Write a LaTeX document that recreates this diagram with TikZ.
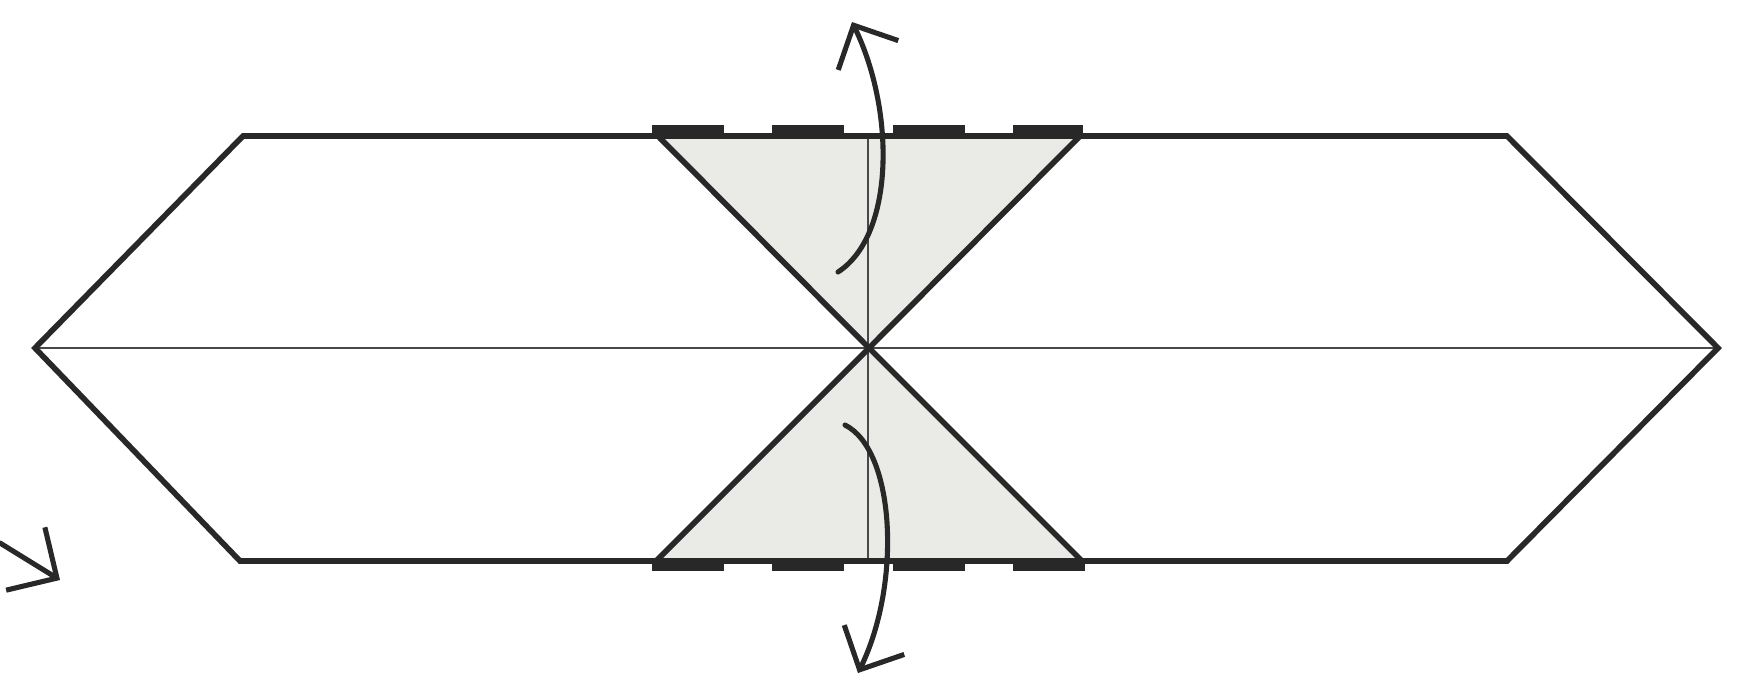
\documentclass[tikz,border=0pt]{standalone}
\usepackage{tikz}
\usetikzlibrary{arrows.meta}

\definecolor{inkGray}{RGB}{40, 40, 40}
\definecolor{flapGray}{RGB}{234, 234, 231}

\begin{document}
\begin{tikzpicture}[
    x=0.01cm, y=-0.01cm,
    outline/.style={draw=inkGray, line width=1.6pt, line join=miter},
    crease/.style={draw=inkGray!85, line width=0.6pt},
    flap/.style={fill=flapGray, draw=none},
    edgemark/.style={draw=inkGray, line width=2.2pt,
                     dash pattern=on 20.5pt off 13.7pt},
    turn/.style={draw=inkGray, line width=1.45pt, line cap=round,
                 -{Straight Barb[length=9.5pt, width=19pt]}},
  ]
    \useasboundingbox (0,0) rectangle (1748,690);

    % corners of the strip
    \coordinate (L)  at (35,348);
    \coordinate (TL) at (243,136);
    \coordinate (TR) at (1507,136);
    \coordinate (R)  at (1718,348);
    \coordinate (BR) at (1507,561);
    \coordinate (BL) at (240,561);
    \coordinate (C)  at (869,348);

    % flaps
    \coordinate (FTL) at (656,134);
    \coordinate (FTR) at (1082,134);
    \coordinate (FBL) at (656,561);
    \coordinate (FBR) at (1082,561);
    \coordinate (VT) at (868,134);
    \coordinate (VB) at (868,561);

    \fill[flap] (FTL) -- (C) -- (FTR) -- cycle;
    \fill[flap] (FBL) -- (C) -- (FBR) -- cycle;

    \draw[crease] (L) -- (R);
    \draw[crease] (VT) -- (VB);

    \draw[outline] (L) -- (TL) -- (TR) -- (R) -- (BR) -- (BL) -- cycle;
    \draw[outline] (FTL) -- (C) -- (FTR);
    \draw[outline] (FBL) -- (C) -- (FBR);

    \draw[edgemark] (652,129) -- (1083,129);
    \draw[edgemark] (652,567) -- (1085,567);

    % turn-over arrows
    \coordinate (UA) at (838,272);
    \coordinate (UB) at (852,22);
    \coordinate (DA) at (845,425);
    \coordinate (DB) at (858,673);
    \draw[turn] (UA) .. controls (895,235) and (895,110) .. (UB);
    \draw[turn] (DA) .. controls (895,450) and (902,583) .. (DB);

    \coordinate (SA) at (0,543);
    \coordinate (SB) at (60,580);
    \draw[turn, -{Straight Barb[length=10.5pt, width=21pt]}] (SA) -- (SB);
  \end{tikzpicture}
\end{document}
